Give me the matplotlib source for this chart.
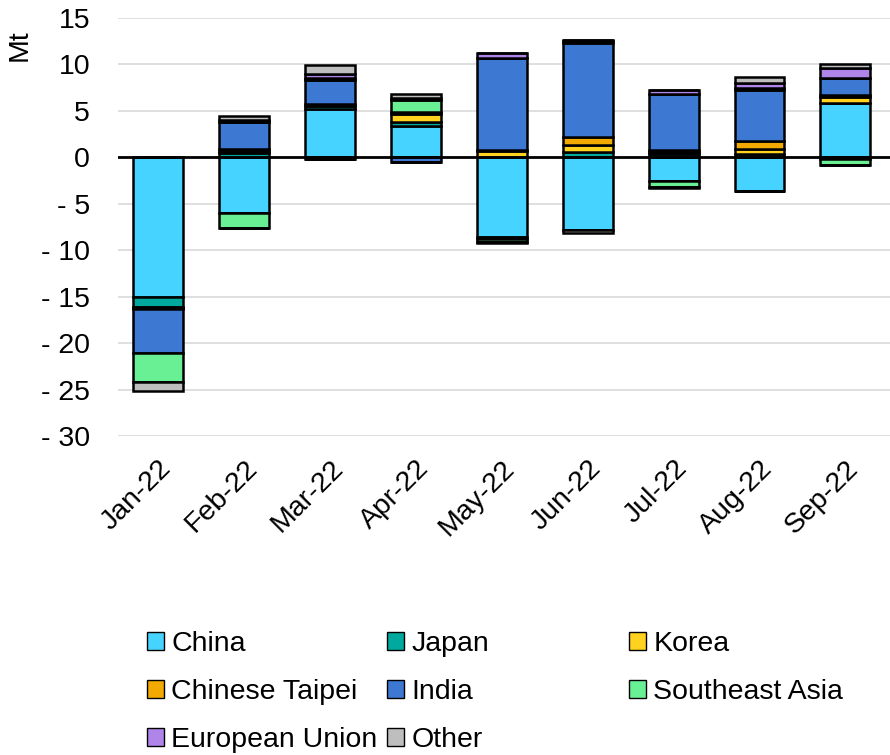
import matplotlib
matplotlib.use("Agg")
import matplotlib.pyplot as plt
import numpy as np
from matplotlib.patches import Patch

plt.rcParams['font.family'] = ['Liberation Sans', 'DejaVu Sans']

categories = ["Jan-22", "Feb-22", "Mar-22", "Apr-22", "May-22", "Jun-22", "Jul-22", "Aug-22", "Sep-22"]
series_names = ["China", "Japan", "Korea", "Chinese Taipei", "India", "Southeast Asia", "European Union", "Other"]

china = [-15.0, -6.0, 5.2, 3.4, -8.6, -7.8, -2.6, -3.6, 5.9]
japan = [-1.1, 0.45, 0.35, 0.45, -0.2, 0.55, 0.35, 0.4, -0.15]
korea = [-0.1, 0.2, 0.2, 0.85, 0.65, 0.8, 0.25, 0.5, 0.6]
chinese_taipei = [-0.1, 0.2, -0.15, 0.2, 0.1, 0.8, 0.2, 0.85, 0.2]
india = [-4.8, 2.9, 2.6, -0.45, 9.9, 10.2, 6.0, 5.45, 1.8]
southeast_asia = [-3.1, -1.6, 0.2, 1.25, -0.35, 0.15, -0.55, 0.3, -0.7]
european_union = [0.0, 0.3, 0.4, 0.25, 0.55, 0.1, 0.4, 0.45, 1.1]
other = [-1.0, 0.35, 1.0, 0.45, -0.1, -0.3, -0.15, 0.75, 0.4]

colors = ["#47D3FF", "#00A99D", "#FFD21F", "#F2A900", "#3D78D3", "#6AF094", "#B085EA", "#BEBEBE"]
series = [china, japan, korea, chinese_taipei, india, southeast_asia, european_union, other]

yticks = [15, 10, 5, 0, -5, -10, -15, -20, -25, -30]
ytick_labels = ["15", "10", "5", "0", "- 5", "- 10", "- 15", "- 20", "- 25", "- 30"]

FS = 20.5

fig = plt.figure(figsize=(8.9, 7.55), dpi=100)
ax = fig.add_axes([118 / 890, 1 - 436 / 755, 1 - 118 / 890, (436 - 18) / 755])

x = np.arange(len(categories))
pos_base = np.zeros(len(categories))
neg_base = np.zeros(len(categories))
handles = {}
for name, vals, col in zip(series_names, series, colors):
    v = np.array(vals, dtype=float)
    pos = np.where(v > 0, v, 0)
    neg = np.where(v < 0, v, 0)
    ax.bar(x, pos, bottom=pos_base, width=0.58, color=col, edgecolor="black", linewidth=1.8, zorder=3)
    ax.bar(x, neg, bottom=neg_base, width=0.58, color=col, edgecolor="black", linewidth=1.8, zorder=3)
    pos_base += pos
    neg_base += neg
    handles[name] = Patch(facecolor=col, edgecolor="black", linewidth=1.0)

ax.set_xlim(-0.47, 8.52)
ax.set_ylim(-30, 15)
ax.set_yticks(yticks)
ax.set_yticklabels(ytick_labels, fontsize=FS)
ax.set_xticks(x)
ax.set_xticklabels(categories, rotation=45, ha="right", rotation_mode="anchor", fontsize=FS)
ax.tick_params(axis="y", length=0, pad=20)
ax.tick_params(axis="x", length=0, pad=14)
for s in ax.spines.values():
    s.set_visible(False)
ax.grid(axis="y", color="#D9D9D9", linewidth=1.2, zorder=0)
ax.axhline(0, color="black", linewidth=2, zorder=4)

fig.text(20 / 890, 1 - 45 / 755, "Mt", rotation=90, fontsize=FS, ha="center", va="center")

cols = [["China", "Chinese Taipei", "European Union"],
        ["Japan", "India", "Other"],
        ["Korea", "Southeast Asia"]]
xs = [147, 387, 629]
for names, xx in zip(cols, xs):
    fig.legend([handles[n] for n in names], names, loc="upper left",
               bbox_to_anchor=(xx / 890, 1 - 631 / 755), frameon=False, fontsize=FS,
               handlelength=0.6, handleheight=0.6, handletextpad=0.25,
               labelspacing=0.78, borderpad=0, borderaxespad=0)

fig.savefig("out.png", dpi=100)
